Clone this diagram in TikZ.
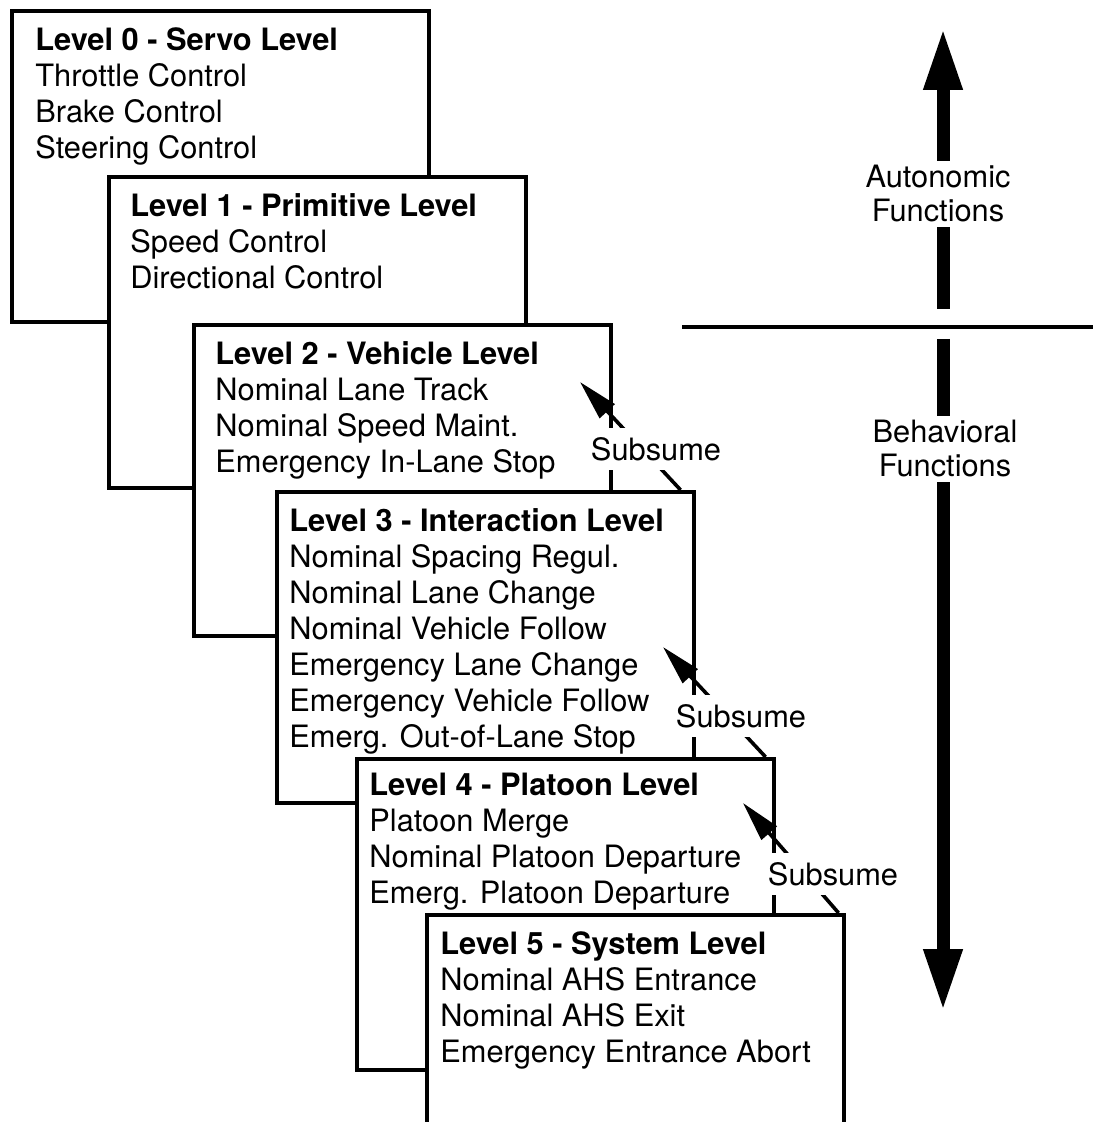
\documentclass[tikz,border=0pt]{standalone}
\usepackage{fontspec}
\setmainfont{TeX Gyre Heros}
\usetikzlibrary{arrows.meta,calc}
\begin{document}
\begin{tikzpicture}[x=0.5pt,y=-0.5pt,
  lvbox/.style={draw, line width=1.8pt, fill=white, rectangle, anchor=north west,
    minimum width=208.5pt, minimum height=155.5pt, inner sep=0pt},
  lvtext/.style={anchor=north west, inner sep=0pt, align=left,
    font=\fontsize{15.4}{18}\selectfont},
  sublabel/.style={fill=white, inner xsep=2pt, inner ysep=4.5pt,
    font=\fontsize{15.4}{18}\selectfont},
  subarrow/.style={line width=1.8pt, -{Triangle[length=20pt,width=10pt]}},
  bigarrow/.style={line width=6.5pt, -{Triangle[length=31pt,width=18pt]}},
  sidetext/.style={fill=white, align=center, inner xsep=1pt, inner ysep=2.5pt,
    font=\fontsize{15.4}{17}\selectfont},
  divider/.style={line width=1.6pt}
]
\useasboundingbox (0,0) rectangle (1093,1122);
\clip (0,0) rectangle (1093,1122);

% Level boxes
\node[lvbox] (b0) at (10,9) {};
\node[lvtext] (t0) at ($(b0.north west)+(25,18)$)
  {\textbf{Level 0 - Servo Level}\\Throttle Control\\Brake Control\\Steering Control};
\node[lvbox] (b1) at (107,175) {};
\node[lvtext] (t1) at ($(b1.north west)+(23,18)$)
  {\textbf{Level 1 - Primitive Level}\\Speed Control\\Directional Control};
\node[lvbox] (b2) at (192,323) {};
\node[lvtext] (t2) at ($(b2.north west)+(23,18)$)
  {\textbf{Level 2 - Vehicle Level}\\Nominal Lane Track\\Nominal Speed Maint.\\Emergency In-Lane Stop};
\node[lvbox] (b3) at (275,490) {};
\node[lvtext] (t3) at ($(b3.north west)+(14,18)$)
  {\textbf{Level 3 - Interaction Level}\\Nominal Spacing Regul.\\Nominal Lane Change\\Nominal Vehicle Follow\\Emergency Lane Change\\Emergency Vehicle Follow\\Emerg. Out-of-Lane Stop};
\node[lvbox] (b4) at (355,757) {};
\node[lvtext] (t4) at ($(b4.north west)+(14,16)$)
  {\textbf{Level 4 - Platoon Level}\\Platoon Merge\\Nominal Platoon Departure\\Emerg. Platoon Departure};
\node[lvbox] (b5) at (425,913) {};
\node[lvtext] (t5) at ($(b5.north west)+(15,18)$)
  {\textbf{Level 5 - System Level}\\Nominal AHS Entrance\\Nominal AHS Exit\\Emergency Entrance Abort};

% Subsume arrows
\coordinate (s1a) at ($(b3.north east)+(-15,0)$);
\coordinate (s1b) at (580,382);
\draw[subarrow] (s1a) -- (s1b);
\node[sublabel] (l1) at (656,449) {Subsume};

\coordinate (s2a) at ($(b4.north east)+(-10,0)$);
\coordinate (s2b) at (663,647);
\draw[subarrow] (s2a) -- (s2b);
\node[sublabel] (l2) at (741,716) {Subsume};

\coordinate (s3a) at ($(b5.north east)+(-7,0)$);
\coordinate (s3b) at (743,803);
\draw[subarrow] (s3a) -- (s3b);
\node[sublabel] (l3) at (833,874) {Subsume};

% Divider
\coordinate (h0) at (682,327);
\coordinate (h1) at (1093,327);
\draw[divider] (h0) -- (h1);

% Big arrows
\coordinate (up0) at (943,309);
\coordinate (up1) at (943,28);
\draw[bigarrow] (up0) -- (up1);
\node[sidetext] (auto) at (938,194) {Autonomic\\Functions};

\coordinate (dn0) at (943,339);
\coordinate (dn1) at (943,1011);
\draw[bigarrow] (dn0) -- (dn1);
\node[sidetext] (beh) at (945,449) {Behavioral\\Functions};
\end{tikzpicture}
\end{document}
